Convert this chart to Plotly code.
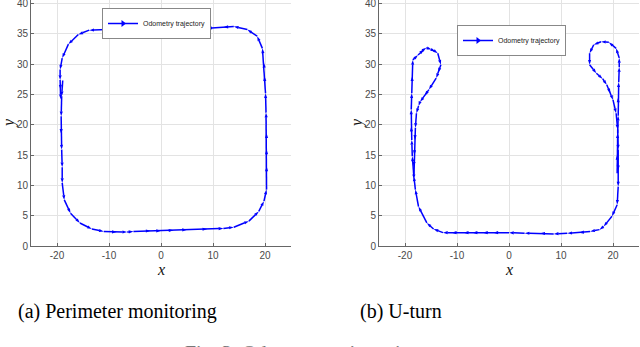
import plotly.graph_objects as go

# odometry trajectory, perimeter monitoring run (m)
perim_x = [-18.9, -19.1, -19.2, -19.2, -19.1, -19.0, -19.0, -18.6, -17.4, -15.6, -13.3, -11.0, -8.5, -6.5,
           -5.3, -2.0, 0.0, 2.4, 5.0, 8.9, 12.0, 14.0, 16.9, 18.8, 19.8, 20.3, 20.3, 20.3, 20.3, 20.2, 20.1,
           19.9, 19.8, 19.5, 18.5, 16.6, 14.0, 12.0, 8.9, 7.0, 5.0, 2.5, 0.0, -2.5, -5.3, -8.0, -10.5, -13.8,
           -15.9, -17.8, -19.0, -19.4, -19.4, -19.3, -19.3]
perim_y = [27.3, 24.7, 21.4, 18.5, 15.9, 13.0, 10.4, 7.6, 5.4, 3.8, 2.8, 2.4, 2.3, 2.3,
           2.4, 2.5, 2.5, 2.6, 2.7, 2.8, 2.9, 3.1, 4.1, 5.7, 7.4, 9.3, 13.1, 15.9, 18.6, 22.0, 25.2,
           28.0, 30.2, 32.6, 34.6, 35.7, 36.2, 36.1, 35.9, 36.0, 36.1, 36.0, 35.9, 35.8, 35.8, 35.8, 35.7, 35.6,
           34.9, 33.3, 31.0, 29.1, 27.4, 25.8, 24.2]

# odometry trajectory, U-turn run (m)
uturn_x = [20.8, 20.8, 20.9, 21.0, 21.0, 21.1, 21.2, 21.2, 20.6, 19.2, 17.7, 16.3, 15.5, 15.5, 16.8, 18.0,
           18.8, 19.5, 20.0, 20.6, 20.9, 21.0, 21.0, 21.0, 20.8, 19.8, 18.2, 17.4, 15.6, 13.5, 11.2, 8.6,
           6.0, 3.0, 0.0, -3.0, -5.0, -7.0, -8.7, -11.0, -12.7, -14.5, -15.8, -17.4, -18.0, -18.3, -18.6,
           -18.7, -18.8, -18.8, -18.7, -18.6, -18.5, -17.5, -16.4, -15.9, -14.9, -14.2, -13.7, -13.1, -13.6,
           -14.0, -15.4, -16.2, -17.1, -17.4, -17.8, -18.0, -18.1, -18.2, -18.3, -18.3]
uturn_y = [12.0, 15.0, 18.6, 21.5, 24.5, 27.0, 29.5, 31.0, 32.6, 33.6, 33.7, 33.2, 31.8, 29.9, 28.5, 27.6,
           26.6, 25.2, 24.1, 21.9, 19.2, 15.9, 12.5, 9.8, 6.8, 4.9, 3.2, 2.7, 2.4, 2.2, 2.1, 2.0,
           2.1, 2.1, 2.2, 2.2, 2.2, 2.2, 2.2, 2.2, 2.2, 2.8, 3.8, 6.5, 9.3, 11.5, 14.8,
           17.5, 19.7, 22.5, 25.2, 28.0, 30.7, 31.5, 32.4, 32.7, 32.4, 32.1, 31.8, 29.9, 28.6,
           27.7, 25.8, 24.8, 23.8, 23.1, 21.9, 19.5, 17.5, 15.0, 13.1, 11.0]

x_ticks = [-20, -10, 0, 10, 20]
x_ticktext = ["-20", "-10", "0", "10", "20"]
y_ticks = [0, 5, 10, 15, 20, 25, 30, 35, 40]
captions = ["(a) Perimeter monitoring", "(b) U-turn"]
fig_caption = "Fig. 3: Odometry trajectories"
trace_name = "Odometry trajectory"

W, H = 640, 347
BLUE = "rgb(0,0,255)"
GRID = "#e3e3e3"
AX = "#666"
TICKFONT = dict(family="Liberation Sans, Arial", size=10, color="#4a4a4a")

fig = go.Figure()

panels = [
    dict(x=perim_x, y=perim_y, xa="x", ya="y", legend="legend", dom=(31, 291)),
    dict(x=uturn_x, y=uturn_y, xa="x2", ya="y2", legend="legend2", dom=(379, 639)),
]

for p in panels:
    fig.add_trace(go.Scatter(
        x=p["x"], y=p["y"], xaxis=p["xa"], yaxis=p["ya"], mode="lines+markers",
        line=dict(color=BLUE, width=1.5),
        marker=dict(symbol="arrow", angleref="previous", size=5, color=BLUE),
        showlegend=False, hoverinfo="skip"))
    # legend-only entry so the key shows a right-pointing arrow
    fig.add_trace(go.Scatter(
        x=[None], y=[None], xaxis=p["xa"], yaxis=p["ya"], mode="lines+markers",
        name=trace_name, legend=p["legend"],
        line=dict(color=BLUE, width=1.5),
        marker=dict(symbol="triangle-right", size=6, color=BLUE)))

# plot area: x-axis at pixel 246, y=40 sits at pixel 3.5 from the top
BOT = 246
y_top = 40 * BOT / (BOT - 3.5)

axis_common = dict(showline=True, linecolor=AX, linewidth=1, mirror=False,
                   showgrid=True, gridcolor=GRID, gridwidth=1, zeroline=False,
                   ticks="inside", ticklen=3, tickcolor=AX, tickfont=TICKFONT,
                   automargin=False, ticklabeloverflow="allow")

for i, p in enumerate(panels):
    sfx = "" if i == 0 else "2"
    d0, d1 = p["dom"]
    fig.update_layout(**{
        "xaxis" + sfx: dict(axis_common, domain=[d0 / W, d1 / W], range=[-25, 25],
                           tickvals=x_ticks, ticktext=x_ticktext, anchor="y" + sfx),
        "yaxis" + sfx: dict(axis_common, domain=[0, 1], range=[0, y_top],
                           tickvals=y_ticks, anchor="x" + sfx),
    })


def py(pix):
    return (BOT - pix) / BOT


legend_style = dict(bgcolor="white", bordercolor="#888", borderwidth=1,
                    font=dict(family="Liberation Sans, Arial", size=7, color="#222"),
                    itemwidth=30, tracegroupgap=0, xanchor="left", yanchor="top")

fig.update_layout(
    width=W, height=H,
    margin=dict(l=0, r=0, t=0, b=H - BOT, pad=0),
    paper_bgcolor="white", plot_bgcolor="white",
    legend=dict(legend_style, x=102 / W, y=py(8)),
    legend2=dict(legend_style, x=457 / W, y=py(25)),
)

annos = []
serif = "Liberation Serif, Times New Roman, serif"
for i, p in enumerate(panels):
    d0, d1 = p["dom"]
    cx = (d0 + d1) / 2
    annos.append(dict(text="<i>x</i>", x=cx / W, y=py(269), xref="paper", yref="paper",
                      showarrow=False, font=dict(family=serif, size=16, color="#111"),
                      xanchor="center", yanchor="middle"))
    annos.append(dict(text="<i>y</i>", x=(d0 - 22) / W, y=py(123), xref="paper", yref="paper",
                      showarrow=False, textangle=-90, font=dict(family=serif, size=16, color="#111"),
                      xanchor="center", yanchor="middle"))
annos.append(dict(text=captions[0], x=117 / W, y=py(311), xref="paper", yref="paper", showarrow=False,
                  font=dict(family=serif, size=20, color="black"), xanchor="center", yanchor="middle"))
annos.append(dict(text=captions[1], x=401 / W, y=py(311), xref="paper", yref="paper", showarrow=False,
                  font=dict(family=serif, size=20, color="black"), xanchor="center", yanchor="middle"))
annos.append(dict(text=fig_caption, x=183 / W, y=py(340), xref="paper", yref="paper",
                  showarrow=False, font=dict(family=serif, size=20, color="#777"),
                  xanchor="left", yanchor="top"))
fig.update_layout(annotations=annos)

# page body has an 8px default margin; drop it so the figure fills the window
fig.write_html("out.html", config={"displayModeBar": False},
               post_script="document.body.style.margin='0';")
